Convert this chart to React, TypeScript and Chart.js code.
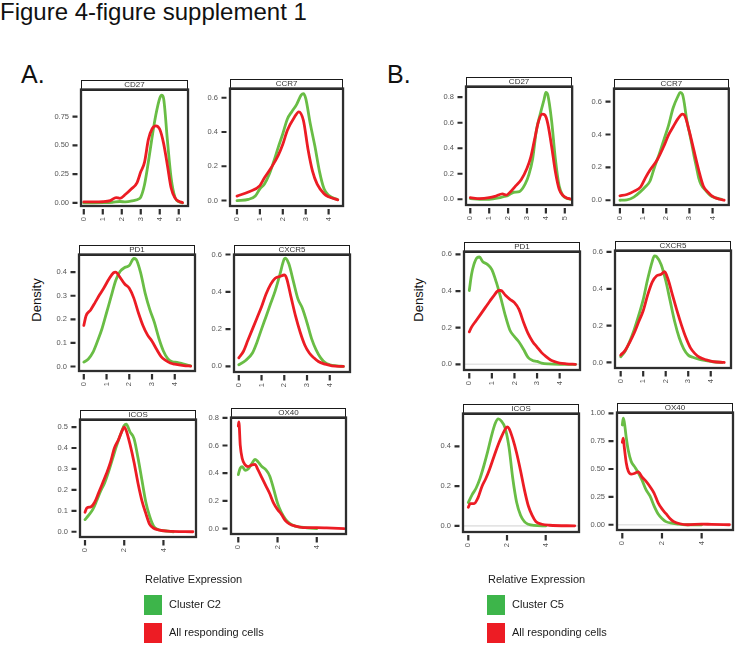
import React, { useEffect, useRef } from 'react';
import { Chart, registerables } from 'chart.js';

Chart.register(...registerables);

type Pt = [number, number];

const FONT = "'Liberation Sans', Arial, Helvetica, sans-serif";
const LINE_GREEN = '#69bd45';
const LINE_RED = '#ec1c24';
const KEY_GREEN = '#3db54a';
const KEY_RED = '#ed1c24';

// ---------- Panel A (Cluster C2 vs All responding cells) ----------
const A_CD27_C2: Pt[] = [[0,0],[1,0.002],[1.5,0.005],[1.9,0.012],[2.2,0.008],[2.6,0.02],[2.9,0.035],[3.0,0.05],[3.2,0.16],[3.4,0.355],[3.6,0.575],[3.8,0.77],[4.0,0.91],[4.1,0.936],[4.2,0.91],[4.4,0.55],[4.6,0.215],[4.8,0.05],[5.0,0.01],[5.2,0]];
const A_CD27_ALL: Pt[] = [[0,0.008],[0.5,0.008],[1.0,0.01],[1.4,0.02],[1.7,0.046],[1.9,0.04],[2.2,0.075],[2.5,0.12],[2.8,0.175],[3.0,0.27],[3.2,0.355],[3.4,0.55],[3.6,0.645],[3.8,0.67],[4.0,0.64],[4.2,0.52],[4.4,0.33],[4.6,0.13],[4.8,0.044],[5.0,0.014],[5.2,0.003]];

const A_CCR7_C2: Pt[] = [[0,0],[0.5,0.007],[0.8,0.026],[1.0,0.068],[1.2,0.096],[1.4,0.15],[1.6,0.226],[1.8,0.31],[2.0,0.39],[2.2,0.476],[2.4,0.52],[2.6,0.56],[2.8,0.615],[2.9,0.624],[3.0,0.596],[3.2,0.448],[3.4,0.318],[3.6,0.17],[3.8,0.068],[4.0,0.03],[4.4,0.005]];
const A_CCR7_ALL: Pt[] = [[0,0.026],[0.5,0.05],[1.0,0.087],[1.2,0.133],[1.5,0.193],[1.8,0.263],[2.0,0.328],[2.2,0.41],[2.5,0.485],[2.7,0.518],[2.9,0.467],[3.1,0.3],[3.3,0.17],[3.5,0.096],[3.8,0.04],[4.0,0.022],[4.4,0.004]];

const A_PD1_C2: Pt[] = [[0,0.019],[0.2,0.032],[0.4,0.06],[0.6,0.107],[0.8,0.16],[1.0,0.228],[1.2,0.296],[1.4,0.364],[1.6,0.404],[1.8,0.42],[2.0,0.428],[2.2,0.458],[2.3,0.454],[2.5,0.397],[2.7,0.31],[2.9,0.242],[3.1,0.188],[3.3,0.12],[3.5,0.066],[3.7,0.032],[3.9,0.02],[4.1,0.018],[4.4,0.01],[4.7,0.003]];
const A_PD1_ALL: Pt[] = [[0,0.174],[0.1,0.215],[0.3,0.24],[0.5,0.272],[0.7,0.305],[0.9,0.336],[1.1,0.37],[1.3,0.397],[1.4,0.4],[1.6,0.377],[1.8,0.35],[2.0,0.332],[2.2,0.29],[2.4,0.228],[2.6,0.174],[2.8,0.134],[3.0,0.107],[3.2,0.073],[3.4,0.042],[3.6,0.026],[3.8,0.015],[4.0,0.01],[4.4,0.004],[4.7,0.002]];

const A_CXCR5_C2: Pt[] = [[0,0.009],[0.3,0.032],[0.6,0.072],[0.8,0.13],[1.0,0.2],[1.2,0.268],[1.4,0.337],[1.6,0.405],[1.8,0.49],[2.0,0.576],[2.05,0.58],[2.2,0.55],[2.4,0.456],[2.6,0.362],[2.8,0.311],[3.0,0.234],[3.2,0.149],[3.4,0.089],[3.6,0.046],[3.8,0.02],[4.0,0.009],[4.3,0.003],[4.6,0]];
const A_CXCR5_ALL: Pt[] = [[0,0.046],[0.2,0.08],[0.4,0.14],[0.6,0.2],[0.8,0.26],[1.0,0.32],[1.2,0.388],[1.4,0.44],[1.6,0.473],[1.8,0.482],[2.0,0.49],[2.1,0.473],[2.3,0.37],[2.5,0.268],[2.7,0.183],[2.9,0.115],[3.1,0.072],[3.3,0.046],[3.5,0.026],[3.8,0.012],[4.1,0.003],[4.6,0]];

const A_ICOS_C2: Pt[] = [[0,0.058],[0.2,0.081],[0.4,0.107],[0.6,0.149],[0.8,0.195],[1.0,0.233],[1.2,0.286],[1.4,0.347],[1.6,0.408],[1.8,0.461],[2.0,0.507],[2.1,0.514],[2.3,0.476],[2.5,0.445],[2.7,0.354],[2.9,0.248],[3.1,0.142],[3.3,0.073],[3.5,0.027],[3.7,0.012],[4.0,0.005],[4.5,0]];
const A_ICOS_ALL: Pt[] = [[0,0.093],[0.1,0.114],[0.3,0.119],[0.5,0.142],[0.7,0.187],[0.9,0.233],[1.1,0.279],[1.3,0.332],[1.5,0.4],[1.7,0.438],[1.9,0.484],[2.0,0.5],[2.1,0.484],[2.3,0.416],[2.5,0.332],[2.7,0.233],[2.9,0.149],[3.1,0.088],[3.3,0.035],[3.5,0.017],[3.8,0.008],[4.2,0.003],[5.5,0]];

const A_OX40_C2: Pt[] = [[0,0.39],[0.1,0.437],[0.2,0.448],[0.35,0.42],[0.5,0.43],[0.7,0.471],[0.85,0.5],[1.0,0.483],[1.2,0.448],[1.4,0.425],[1.6,0.38],[1.8,0.287],[2.0,0.184],[2.2,0.115],[2.4,0.069],[2.6,0.039],[2.9,0.018],[3.2,0.01],[3.5,0.005],[4.0,0]];
const A_OX40_ALL: Pt[] = [[0,0.74],[0.03,0.77],[0.1,0.6],[0.2,0.506],[0.35,0.46],[0.5,0.448],[0.7,0.46],[0.85,0.464],[1.0,0.425],[1.2,0.368],[1.4,0.31],[1.6,0.253],[1.8,0.184],[2.0,0.138],[2.2,0.103],[2.4,0.057],[2.6,0.034],[2.9,0.018],[3.3,0.007],[4.0,0.007],[4.5,0.005],[5.4,0]];

// ---------- Panel B (Cluster C5 vs All responding cells) ----------
const B_CD27_C5: Pt[] = [[0,0.005],[0.5,0],[1.0,0],[1.5,0.01],[1.8,0.022],[2.0,0.03],[2.3,0.055],[2.6,0.06],[2.9,0.118],[3.1,0.193],[3.3,0.318],[3.5,0.543],[3.7,0.668],[3.9,0.78],[4.0,0.838],[4.1,0.818],[4.3,0.618],[4.5,0.318],[4.7,0.105],[4.9,0.03],[5.1,0.008],[5.3,0]];
const B_CD27_ALL: Pt[] = [[0,0.012],[0.5,0.005],[1.0,0.012],[1.3,0.022],[1.7,0.042],[1.9,0.032],[2.1,0.055],[2.4,0.105],[2.7,0.155],[3.0,0.243],[3.2,0.33],[3.4,0.468],[3.6,0.605],[3.8,0.668],[3.95,0.66],[4.1,0.593],[4.3,0.418],[4.5,0.218],[4.7,0.08],[4.9,0.03],[5.1,0.01],[5.3,0.002]];

const B_CCR7_C5: Pt[] = [[0,0],[0.3,0.002],[0.6,0.019],[0.9,0.054],[1.1,0.082],[1.3,0.117],[1.5,0.204],[1.7,0.282],[1.9,0.369],[2.1,0.456],[2.3,0.563],[2.5,0.631],[2.6,0.656],[2.7,0.645],[2.9,0.478],[3.0,0.412],[3.1,0.344],[3.2,0.27],[3.3,0.204],[3.4,0.136],[3.5,0.097],[3.7,0.06],[3.9,0.03],[4.1,0.016],[4.4,0.004]];
const B_CCR7_ALL: Pt[] = [[0,0.027],[0.3,0.035],[0.6,0.054],[0.9,0.082],[1.1,0.136],[1.3,0.184],[1.6,0.243],[1.9,0.33],[2.1,0.398],[2.3,0.447],[2.5,0.495],[2.7,0.524],[2.8,0.515],[3.0,0.417],[3.2,0.3],[3.4,0.184],[3.6,0.087],[3.8,0.049],[4.0,0.023],[4.3,0.006],[4.5,0]];

const B_PD1_C5: Pt[] = [[0,0.403],[0.1,0.49],[0.2,0.543],[0.35,0.583],[0.45,0.586],[0.6,0.56],[0.8,0.546],[1.0,0.517],[1.2,0.447],[1.4,0.36],[1.6,0.264],[1.8,0.186],[2.0,0.151],[2.2,0.122],[2.4,0.082],[2.6,0.038],[2.8,0.021],[3.0,0.016],[3.2,0.007],[3.5,0.002],[4.0,0],[4.7,0]];
const B_PD1_ALL: Pt[] = [[0,0.177],[0.1,0.203],[0.3,0.238],[0.5,0.273],[0.7,0.308],[0.9,0.343],[1.1,0.377],[1.3,0.403],[1.4,0.403],[1.6,0.377],[1.8,0.355],[2.0,0.337],[2.2,0.3],[2.4,0.23],[2.6,0.169],[2.8,0.125],[3.0,0.094],[3.2,0.064],[3.4,0.042],[3.6,0.024],[3.8,0.014],[4.0,0.007],[4.3,0.003],[4.7,0]];

const B_CXCR5_C5: Pt[] = [[0,0.031],[0.2,0.062],[0.4,0.114],[0.6,0.178],[0.8,0.255],[1.0,0.341],[1.2,0.453],[1.4,0.548],[1.5,0.579],[1.6,0.574],[1.8,0.531],[2.0,0.445],[2.2,0.333],[2.4,0.221],[2.6,0.134],[2.8,0.074],[3.0,0.04],[3.2,0.028],[3.5,0.017],[3.8,0.01],[4.1,0.004],[4.5,0]];
const B_CXCR5_ALL: Pt[] = [[0,0.04],[0.2,0.066],[0.4,0.109],[0.6,0.16],[0.8,0.221],[1.0,0.281],[1.2,0.367],[1.4,0.436],[1.6,0.471],[1.8,0.479],[1.95,0.493],[2.1,0.453],[2.3,0.367],[2.5,0.281],[2.7,0.203],[2.9,0.134],[3.1,0.079],[3.3,0.048],[3.5,0.028],[3.8,0.014],[4.1,0.005],[4.6,0]];

const B_ICOS_C5: Pt[] = [[0,0.117],[0.2,0.157],[0.4,0.189],[0.6,0.237],[0.8,0.301],[1.0,0.373],[1.2,0.453],[1.4,0.517],[1.55,0.538],[1.7,0.528],[1.9,0.493],[2.1,0.397],[2.3,0.237],[2.5,0.117],[2.7,0.053],[2.9,0.021],[3.1,0.008],[3.4,0.002],[4.0,0]];
const B_ICOS_ALL: Pt[] = [[0,0.093],[0.1,0.112],[0.3,0.112],[0.5,0.141],[0.7,0.197],[0.9,0.237],[1.1,0.285],[1.3,0.341],[1.5,0.397],[1.7,0.445],[1.9,0.485],[2.0,0.498],[2.1,0.49],[2.3,0.437],[2.5,0.365],[2.7,0.277],[2.9,0.181],[3.1,0.101],[3.3,0.053],[3.5,0.021],[3.8,0.008],[4.2,0.003],[5.5,0]];

const B_OX40_C5: Pt[] = [[0,0.895],[0.05,0.957],[0.1,0.923],[0.2,0.781],[0.3,0.668],[0.45,0.568],[0.6,0.526],[0.8,0.469],[1.0,0.398],[1.2,0.313],[1.4,0.256],[1.6,0.17],[1.8,0.099],[2.0,0.057],[2.2,0.028],[2.5,0.014],[2.8,0.006],[3.2,0],[4.0,0]];
const B_OX40_ALL: Pt[] = [[0,0.739],[0.05,0.776],[0.1,0.696],[0.2,0.554],[0.3,0.483],[0.45,0.455],[0.6,0.46],[0.8,0.474],[1.0,0.426],[1.2,0.389],[1.4,0.341],[1.6,0.284],[1.8,0.199],[2.0,0.142],[2.2,0.099],[2.4,0.057],[2.6,0.028],[2.9,0.009],[3.3,0],[4.0,0.006],[4.5,0.003],[5.4,0]];

// ---------- tick labels ----------
const X_TICKS_0_5 = [0, 1, 2, 3, 4, 5];
const X_TICKS_0_4 = [0, 1, 2, 3, 4];
const X_TICKS_EVEN = [0, 2, 4];
const Y_TICKS_Q075 = [0, 0.25, 0.5, 0.75];
const Y_TICKS_Q100 = [0, 0.25, 0.5, 0.75, 1.0];
const Y_TICKS_F04 = [0, 0.2, 0.4];
const Y_TICKS_F06 = [0, 0.2, 0.4, 0.6];
const Y_TICKS_F08 = [0, 0.2, 0.4, 0.6, 0.8];
const Y_TICKS_T04 = [0, 0.1, 0.2, 0.3, 0.4];
const Y_TICKS_T05 = [0, 0.1, 0.2, 0.3, 0.4, 0.5];

const LEGEND_TITLE = 'Relative Expression';
const ALL_LABEL = 'All responding cells';

interface PanelSpec {
  title: string;
  green: Pt[];
  red: Pt[];
  xTicks: number[];
  yTicks: number[];
  yDec: number;
  xMin: number; xMax: number; yMin: number; yMax: number;
  left: number; top: number; right: number; bottom: number;
  zero?: boolean;
}

const PANELS: PanelSpec[] = [
  { title: 'CD27', green: A_CD27_C2, red: A_CD27_ALL, xTicks: X_TICKS_0_5, yTicks: Y_TICKS_Q075, yDec: 2,
    xMin: -0.147, xMax: 5.49, yMin: -0.027, yMax: 0.986, left: 81, top: 84, right: 196, bottom: 206 },
  { title: 'CCR7', green: A_CCR7_C2, red: A_CCR7_ALL, xTicks: X_TICKS_0_4, yTicks: Y_TICKS_F06, yDec: 1,
    xMin: -0.305, xMax: 4.63, yMin: -0.032, yMax: 0.654, left: 230, top: 83, right: 346, bottom: 206 },
  { title: 'PD1', green: A_PD1_C2, red: A_PD1_ALL, xTicks: X_TICKS_0_4, yTicks: Y_TICKS_T04, yDec: 1,
    xMin: -0.211, xMax: 4.89, yMin: -0.019, yMax: 0.475, left: 79, top: 249, right: 195, bottom: 371 },
  { title: 'CXCR5', green: A_CXCR5_C2, red: A_CXCR5_ALL, xTicks: X_TICKS_0_4, yTicks: Y_TICKS_F06, yDec: 1,
    xMin: -0.211, xMax: 4.89, yMin: -0.03, yMax: 0.6, left: 234, top: 249, right: 350, bottom: 372 },
  { title: 'ICOS', green: A_ICOS_C2, red: A_ICOS_ALL, xTicks: X_TICKS_EVEN, yTicks: Y_TICKS_T05, yDec: 1,
    xMin: -0.255, xMax: 5.66, yMin: -0.025, yMax: 0.536, left: 80, top: 414, right: 196, bottom: 537 },
  { title: 'OX40', green: A_OX40_C2, red: A_OX40_ALL, xTicks: X_TICKS_EVEN, yTicks: Y_TICKS_F08, yDec: 1,
    xMin: -0.372, xMax: 5.49, yMin: -0.039, yMax: 0.802, left: 231, top: 412, right: 346, bottom: 534 },
  { title: 'CD27', green: B_CD27_C5, red: B_CD27_ALL, xTicks: X_TICKS_0_5, yTicks: Y_TICKS_F08, yDec: 1,
    xMin: -0.227, xMax: 5.39, yMin: -0.045, yMax: 0.884, left: 466, top: 81, right: 582, bottom: 205 },
  { title: 'CCR7', green: B_CCR7_C5, red: B_CCR7_ALL, xTicks: X_TICKS_0_4, yTicks: Y_TICKS_F06, yDec: 1,
    xMin: -0.255, xMax: 4.7, yMin: -0.029, yMax: 0.68, left: 614, top: 83, right: 730, bottom: 205 },
  { title: 'PD1', green: B_PD1_C5, red: B_PD1_ALL, xTicks: X_TICKS_0_4, yTicks: Y_TICKS_F06, yDec: 1,
    xMin: -0.233, xMax: 4.9, yMin: -0.031, yMax: 0.616, left: 464, top: 246, right: 580, bottom: 370, zero: true },
  { title: 'CXCR5', green: B_CXCR5_C5, red: B_CXCR5_ALL, xTicks: X_TICKS_0_4, yTicks: Y_TICKS_F06, yDec: 1,
    xMin: -0.252, xMax: 4.9, yMin: -0.03, yMax: 0.608, left: 615, top: 245, right: 731, bottom: 368 },
  { title: 'ICOS', green: B_ICOS_C5, red: B_ICOS_ALL, xTicks: X_TICKS_EVEN, yTicks: Y_TICKS_F04, yDec: 1,
    xMin: -0.274, xMax: 5.72, yMin: -0.031, yMax: 0.565, left: 463, top: 408, right: 579, bottom: 532, zero: true },
  { title: 'OX40', green: B_OX40_C5, red: B_OX40_ALL, xTicks: X_TICKS_EVEN, yTicks: Y_TICKS_Q100, yDec: 2,
    xMin: -0.267, xMax: 5.58, yMin: -0.047, yMax: 1.007, left: 617, top: 407, right: 733, bottom: 530, zero: true },
];

const YW = 44;
const XH = 30;
const STRIP = 10;
const PADR = 3;

function Panel({ spec }: { spec: PanelSpec }) {
  const ref = useRef<HTMLCanvasElement>(null);
  const cw = spec.right - spec.left + YW + PADR;
  const ch = spec.bottom - spec.top + STRIP + 1 + XH;

  useEffect(() => {
    if (!ref.current) return;
    const panelPlugin = {
      id: 'panelDecor',
      beforeDatasetsDraw(chart: any) {
        if (!spec.zero) return;
        const { ctx, chartArea } = chart;
        const y0 = chart.scales.y.getPixelForValue(0);
        ctx.save();
        ctx.strokeStyle = '#e4e4e4';
        ctx.lineWidth = 1.6;
        ctx.beginPath();
        ctx.moveTo(chartArea.left, y0);
        ctx.lineTo(chartArea.right, y0);
        ctx.stroke();
        ctx.restore();
      },
      afterDraw(chart: any) {
        const { ctx, chartArea } = chart;
        const { left, right, top, bottom } = chartArea;
        ctx.save();
        // strip
        ctx.fillStyle = '#ffffff';
        ctx.fillRect(left, top - STRIP, right - left, STRIP);
        ctx.strokeStyle = '#1a1a1a';
        ctx.lineWidth = 1;
        ctx.strokeRect(Math.round(left) + 0.5, Math.round(top - STRIP) + 0.5, Math.round(right - left) - 1, STRIP);
        ctx.fillStyle = '#333333';
        ctx.font = `8px ${FONT}`;
        ctx.textAlign = 'center';
        ctx.textBaseline = 'middle';
        ctx.fillText(spec.title, (left + right) / 2, top - STRIP / 2 + 0.5);
        // frame
        ctx.strokeStyle = '#2e2e2e';
        ctx.lineWidth = 2.3;
        ctx.strokeRect(left, top, right - left, bottom - top);
        // tick marks
        ctx.lineWidth = 2.2;
        ctx.beginPath();
        chart.scales.x.ticks.forEach((t: any) => {
          const px = chart.scales.x.getPixelForValue(t.value);
          ctx.moveTo(px, bottom + 3);
          ctx.lineTo(px, bottom + 8.5);
        });
        chart.scales.y.ticks.forEach((t: any) => {
          const py = chart.scales.y.getPixelForValue(t.value);
          ctx.moveTo(left - 8.5, py);
          ctx.lineTo(left - 3.5, py);
        });
        ctx.stroke();
        ctx.restore();
      },
    };

    const chart = new Chart(ref.current, {
      type: 'line',
      data: {
        datasets: [
          {
            label: ALL_LABEL,
            data: spec.red.map(([x, y]) => ({ x, y })),
            borderColor: LINE_RED,
            backgroundColor: LINE_RED,
          },
          {
            label: 'Cluster',
            data: spec.green.map(([x, y]) => ({ x, y })),
            borderColor: LINE_GREEN,
            backgroundColor: LINE_GREEN,
          },
        ],
      },
      options: {
        animation: false,
        responsive: false,
        devicePixelRatio: 1,
        layout: { padding: { top: STRIP + 1, right: PADR, left: 0, bottom: 0 } },
        plugins: { legend: { display: false }, tooltip: { enabled: false } },
        elements: {
          point: { radius: 0 },
          line: { borderWidth: 2.8, cubicInterpolationMode: 'monotone', borderCapStyle: 'round', borderJoinStyle: 'round' },
        },
        scales: {
          x: {
            type: 'linear',
            min: spec.xMin,
            max: spec.xMax,
            grid: { display: false, drawTicks: false },
            border: { display: false },
            ticks: {
              padding: 11,
              minRotation: 90,
              maxRotation: 90,
              autoSkip: false,
              color: '#555555',
              font: { size: 7.5, family: FONT },
              callback: (v: any) => String(Math.round(Number(v))),
            },
            afterBuildTicks: (s: any) => { s.ticks = spec.xTicks.map((v) => ({ value: v })); },
            afterFit: (s: any) => { s.height = XH; },
          },
          y: {
            type: 'linear',
            min: spec.yMin,
            max: spec.yMax,
            grid: { display: false, drawTicks: false },
            border: { display: false },
            ticks: {
              padding: 12,
              autoSkip: false,
              color: '#555555',
              font: { size: 7.5, family: FONT },
              callback: (v: any) => Number(v).toFixed(spec.yDec),
            },
            afterBuildTicks: (s: any) => { s.ticks = spec.yTicks.map((v) => ({ value: v })); },
            afterFit: (s: any) => { s.width = YW; },
          },
        },
      } as any,
      plugins: [panelPlugin],
    });
    return () => chart.destroy();
  }, []);

  return (
    <canvas
      ref={ref}
      width={cw}
      height={ch}
      style={{ position: 'absolute', left: spec.left - YW, top: spec.top - STRIP - 1, width: cw, height: ch }}
    />
  );
}

function Legend({ left, cluster }: { left: number; cluster: string }) {
  const txt: React.CSSProperties = { position: 'absolute', fontSize: 11, lineHeight: '11px', whiteSpace: 'nowrap', color: '#1a1a1a' };
  return (
    <>
      <div style={{ ...txt, left: left + 1, top: 574 }}>{LEGEND_TITLE}</div>
      <div style={{ position: 'absolute', left, top: 595, width: 18, height: 20, background: KEY_GREEN }} />
      <div style={{ ...txt, left: left + 25, top: 599 }}>{cluster}</div>
      <div style={{ position: 'absolute', left, top: 623, width: 18, height: 20, background: KEY_RED }} />
      <div style={{ ...txt, left: left + 25, top: 627 }}>{ALL_LABEL}</div>
    </>
  );
}

export default function App() {
  const big: React.CSSProperties = { position: 'absolute', fontSize: 24, lineHeight: '24px', whiteSpace: 'nowrap', color: '#111' };
  const dens: React.CSSProperties = {
    position: 'absolute', fontSize: 13, lineHeight: '13px', whiteSpace: 'nowrap', color: '#111',
    transform: 'translate(-50%, -50%) rotate(-90deg)',
  };
  return (
    <div style={{ position: 'absolute', left: 0, top: 0, width: 735, height: 645, background: '#fff', fontFamily: FONT, overflow: 'hidden' }}>
      <div style={{ ...big, left: 0, top: 0 }}>Figure 4-figure supplement 1</div>
      <div style={{ ...big, fontSize: 25, lineHeight: '25px', left: 21, top: 62 }}>A.</div>
      <div style={{ ...big, fontSize: 25, lineHeight: '25px', left: 387, top: 62 }}>B.</div>
      <div style={{ ...dens, left: 36, top: 300 }}>Density</div>
      <div style={{ ...dens, left: 418, top: 300 }}>Density</div>
      {PANELS.map((p, i) => <Panel key={i} spec={p} />)}
      <Legend left={144} cluster="Cluster C2" />
      <Legend left={487} cluster="Cluster C5" />
    </div>
  );
}
